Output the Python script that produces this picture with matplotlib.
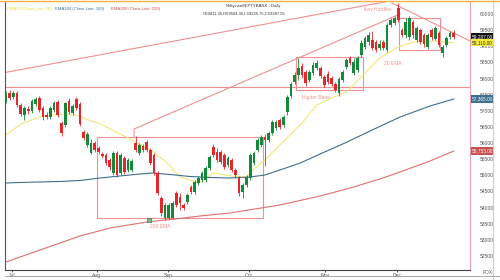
import matplotlib
matplotlib.use("Agg")
import matplotlib.pyplot as plt
import matplotlib.patches as patches
import matplotlib.lines as lines
import matplotlib.transforms as mtransforms
import numpy as np

plt.rcParams['font.family'] = ['Liberation Sans', 'DejaVu Sans']

# daily candles, Jul -> Dec
opens = [57303, 57551, 57427, 57551, 57179, 56869, 57055, 56993, 57210, 57396,
         57086, 56869, 56807, 57024, 57272, 56621, 56559, 57303, 56931, 57365,
         57210, 56342, 55939, 55691, 56001, 55846, 55660, 55629, 55474, 55071,
         55691, 55071, 55536, 55164, 55164, 56001, 55691, 55908, 56032, 55784,
         55629, 55071, 54296, 53676, 53676, 53676, 54451, 54327, 54079, 54172,
         54637, 54482, 54761, 54854, 54854, 55226, 55877, 55722, 55722, 55629,
         55319, 55474, 55164, 54916, 54482, 54699, 54916, 55381, 55784, 55939,
         56187, 56094, 56311, 56466, 56714, 56559, 56962, 57458, 57892, 58109,
         58388, 58202, 57954, 58171, 58326, 58326, 58047, 58140, 58016, 57830,
         57551, 57954, 58357, 58636, 58171, 58264, 58729, 58977, 59132, 59194,
         59132, 58946, 59132, 58884, 59659, 59721, 60186, 59504, 59349, 59287,
         59752, 59194, 59504, 59349, 58977, 59504, 59225, 59411, 58791, 59039,
         59287, 59411]
highs = [57613, 57644, 57613, 57613, 57241, 57148, 57148, 57365, 57427, 57458,
         57148, 56962, 57148, 57303, 57334, 56683, 57272, 57396, 57210, 57427,
         57272, 56404, 56342, 56125, 56063, 55908, 55722, 55691, 55536, 55753,
         55753, 55691, 55598, 55536, 55505, 56218, 56001, 55970, 56094, 55846,
         55691, 55133, 54358, 54141, 54141, 54203, 54513, 54451, 54141, 54451,
         54699, 54854, 54978, 55133, 55288, 55629, 55970, 55846, 55784, 55691,
         55598, 55536, 55226, 54978, 54761, 55009, 55691, 55753, 56156, 56249,
         56280, 56373, 56714, 56714, 56776, 56869, 57489, 57892, 58202, 58636,
         58481, 58264, 58264, 58512, 58574, 58388, 58109, 58233, 58078, 57892,
         58047, 58264, 58636, 58698, 58636, 58698, 59194, 59318, 59442, 59473,
         59194, 59194, 59194, 59721, 59876, 59938, 60341, 59566, 59876, 59938,
         59814, 59628, 59566, 59411, 59411, 59566, 59628, 59473, 59039, 59318,
         59473, 59504]
lows = [57241, 57334, 57365, 57117, 56838, 56714, 56900, 56931, 57148, 56962,
        56714, 56745, 56745, 56962, 56807, 56218, 56497, 56900, 56869, 57024,
        56528, 56094, 55877, 55660, 55722, 55660, 55536, 55319, 55164, 55009,
        54947, 55009, 55040, 55102, 55102, 55722, 55629, 55722, 55722, 55319,
        55009, 54389, 53738, 53614, 53645, 53645, 54017, 53924, 53924, 54110,
        54420, 54420, 54699, 54792, 54792, 55164, 55567, 55412, 55350, 55195,
        55257, 55102, 54916, 54358, 54296, 54637, 54854, 55319, 55722, 55877,
        55288, 56032, 56249, 56404, 56435, 56497, 56869, 57396, 57830, 57954,
        58016, 57768, 57892, 58109, 58264, 58016, 57737, 57830, 57768, 57582,
        57458, 57892, 58295, 58419, 58109, 58202, 58667, 58915, 59039, 58884,
        58822, 58884, 58884, 58822, 59597, 59659, 59752, 59287, 59256, 59194,
        59256, 59132, 59070, 58977, 58915, 59194, 59194, 58977, 58667, 58977,
        59225, 59225]
closes = [57520, 57396, 57551, 57179, 56900, 57086, 56993, 57303, 57365, 57024,
          56807, 56807, 57086, 57241, 56869, 56311, 57241, 56962, 57148, 57086,
          56590, 56156, 56280, 56001, 55784, 55722, 55598, 55381, 55257, 55691,
          55009, 55629, 55102, 55474, 55443, 55784, 55939, 55784, 55784, 55381,
          55071, 54451, 53831, 54079, 54079, 54141, 54079, 54141, 53986, 54389,
          54482, 54792, 54916, 55071, 55226, 55567, 55629, 55474, 55412, 55257,
          55536, 55164, 55009, 54451, 54699, 54947, 55629, 55691, 56094, 56187,
          56094, 56311, 56652, 56652, 56497, 56807, 57427, 57830, 58109, 58326,
          58109, 57861, 58202, 58419, 58481, 58078, 57799, 57892, 57830, 57644,
          57985, 58202, 58574, 58481, 58512, 58636, 59101, 59256, 59349, 58946,
          58884, 59070, 58946, 59659, 59814, 59876, 59814, 59349, 59752, 59876,
          59349, 59566, 59132, 59070, 59349, 59287, 59566, 59039, 58977, 59256,
          59411, 59287]

# moving averages (candle index, price)
ema20_idx = [0, 4, 9, 15, 19, 23, 25, 33, 39, 43, 47, 52, 56, 61, 65, 67, 70, 74,
             80, 84, 88, 92, 96, 101, 106, 110, 116, 121]
ema20_val = [56250, 56590, 56807, 56900, 56869, 56683, 56621, 56156, 55784, 55443,
             54947, 54761, 55071, 54978, 54947, 55195, 55474, 55939, 56621, 57179,
             57396, 57582, 58047, 58636, 58977, 59132, 59163, 59110]
ema100_idx = [0, 3.8, 9.2, 14.6, 20, 25.4, 30.8, 36.2, 39.7, 44.3, 49.7, 55.1,
              60.5, 65.9, 70, 74, 76.8, 79.5, 84.9, 91.6, 98.4, 106.5, 114.6, 121]
ema100_val = [54761, 54777, 54792, 54808, 54839, 54916, 54978, 55040, 55071, 55025,
              54963, 54932, 54916, 54947, 55009, 55164, 55272, 55381, 55660, 56001,
              56373, 56807, 57148, 57365]
ema200_idx = [0, 3.8, 9.2, 14.6, 20, 28.1, 38.1, 45.7, 52.4, 60.5, 67.3, 74,
              84.9, 93, 101.1, 106.5, 114.6, 121]
ema200_val = [52312, 52467, 52684, 52901, 53118, 53366, 53552, 53645, 53738, 53831,
              53955, 54079, 54358, 54606, 54885, 55102, 55443, 55753]

month_pos = [1.6, 24.6, 43.8, 65.7, 86.2, 105.7]
month_lbl = ['Jul', 'Aug', 'Sep', 'Oct', 'Nov', 'Dec']
price_ticks = [60000, 59500, 59000, 58500, 58000, 57500, 57000, 56500, 56000,
               55500, 55000, 54500, 54000, 53500, 53000, 52500]

GREEN = '#15883a'
RED = '#e5262b'
NOTE = '#f09090'
W, H = 500, 280

fig = plt.figure(figsize=(W / 100, H / 100), dpi=100)
fig.patch.set_facecolor('white')
ax = fig.add_axes([5 / W, 10 / H, 465 / W, 268 / H])
ax.set_xlim(-0.27, 125.4)
ax.set_ylim(52064, 60372)

x = np.arange(len(closes))
o = np.array(opens)
c = np.array(closes)
up = c >= o
colors = np.where(up, GREEN, RED)
ax.vlines(x, lows, highs, colors=colors, linewidth=0.6, zorder=3)
ax.bar(x, np.maximum(np.abs(c - o), 25), bottom=np.minimum(o, c), width=0.72,
       color=colors, linewidth=0, zorder=4)

ax.plot(ema20_idx, ema20_val, color='#f3e77a', lw=0.8, zorder=2)
ax.plot(ema100_idx, ema100_val, color='#3f6f8e', lw=0.8, zorder=2)
ax.plot(ema200_idx, ema200_val, color='#e07070', lw=0.8, zorder=2)

# drawings
ax.axhline(57740, color=NOTE, lw=0.8, zorder=1)
ax.add_patch(patches.Rectangle((24.6, 53680), 44.9, 2510, fill=False, ec=NOTE, lw=0.8, zorder=1))
ax.add_patch(patches.Rectangle((78.4, 57644), 18.1, 1023, fill=False, ec=NOTE, lw=0.8, zorder=1))
ax.add_patch(patches.Rectangle((106.2, 58884), 11.1, 992, fill=False, ec=NOTE, lw=0.8, zorder=1))
ax.plot([-0.27, 110.5], [58186, 60549], color=NOTE, lw=0.8, zorder=1)
ax.plot([34.6, 34.6, 106.5], [56187, 56435, 60000], color=NOTE, lw=0.8, zorder=1)
ax.plot([104.3, 125.4], [60341, 59163], color=NOTE, lw=0.8, zorder=1)
ax.plot([38.6], [53614], marker='s', ms=2.5, mfc='#7fc08a', mec='#2f7a3f', mew=0.5, zorder=5)

ax.text(100.5, 60150, 'Key Hurdles', color=NOTE, fontsize=3.6, ha='center', va='center')
ax.text(104.6, 58480, '20 EMA', color=NOTE, fontsize=3.6, ha='center', va='center')
ax.text(83.8, 57400, 'Higher Base', color=NOTE, fontsize=3.6, ha='center', va='center')
ax.text(41.6, 53400, '200 EMA', color=NOTE, fontsize=3.6, ha='center', va='center')

lx = ax.transAxes
ax.text(2 / 465, 0.975, 'EMA20 (Close,Line, 20)', color='#e8dc3c', fontsize=3.1,
        transform=lx, va='center')
ax.text(50 / 465, 0.975, 'EMA100 (Close,Line, 100)', color='#3f6f8e', fontsize=3.1,
        transform=lx, va='center')
ax.text(106 / 465, 0.975, 'EMA200 (Close,Line, 200)', color='#d65050', fontsize=3.1,
        transform=lx, va='center')
ax.text(248 / 465, 0.985, 'Nifty.nse/NIFTYBANK - Daily', color='#333333', fontsize=3.1,
        transform=lx, ha='center', va='center')
ax.text(239 / 465, 0.958, 'O59411.35,H59504.35,L59225.75,C59287.55', color='#333333',
        fontsize=3.0, transform=lx, ha='center', va='center')

# right-hand price boxes
trans = mtransforms.blended_transform_factory(ax.transAxes, ax.transData)
boxes = [(closes[-1], '#111111', 'white'), (ema20_val[-1], '#f3ef3a', '#333333'),
         (ema100_val[-1], '#3f6f8e', 'white'), (ema200_val[-1], '#c9504e', 'white')]
for val, fc, tc in boxes:
    ax.text(1.004, val, f'{val:,.2f}', transform=trans, fontsize=3.4, color=tc,
            va='center', ha='left', clip_on=False,
            bbox=dict(boxstyle='square,pad=0.25', fc=fc, ec='none'))

ax.yaxis.tick_right()
ax.set_yticks(price_ticks)
ax.set_yticklabels([str(p) for p in price_ticks])
ax.tick_params(axis='y', length=0, pad=7, labelsize=3.6, labelcolor='#555555')
ax.set_xticks(month_pos)
ax.set_xticklabels(month_lbl)
ax.tick_params(axis='x', length=1.5, pad=0.5, labelsize=3.6, labelcolor='#555555', color='#555555')

ax.spines['top'].set_visible(False)
ax.spines['left'].set_color('#555555')
ax.spines['bottom'].set_color('#444444')
ax.spines['right'].set_color('#e8a0b8')
for sp in ax.spines.values():
    sp.set_linewidth(0.8)

fig.add_artist(lines.Line2D([493 / W, 493 / W], [0, 1], color='#f0c0d0', lw=0.8))
fig.add_artist(lines.Line2D([5 / W, 1], [4 / H, 4 / H], color='#999999', lw=0.6))
fig.add_artist(lines.Line2D([0, 1], [1 - 1 / H, 1 - 1 / H], color='#f5b041', lw=1.0))
fig.text(488 / W, 1 - 272 / H, 'FOX', fontsize=3.6, color='#555555', ha='center', va='center')

fig.savefig('out.png', dpi=100)
